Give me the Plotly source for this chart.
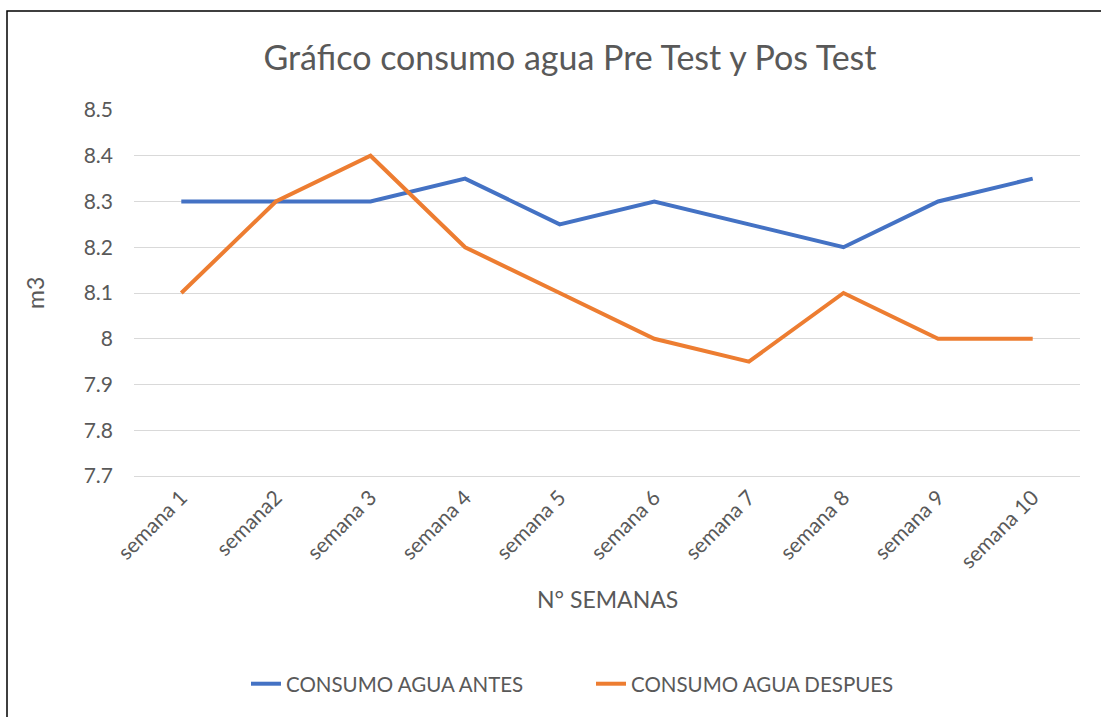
import plotly.graph_objects as go

semanas = ["semana 1", "semana2", "semana 3", "semana 4", "semana 5",
           "semana 6", "semana 7", "semana 8", "semana 9", "semana 10"]
consumo_antes = [8.3, 8.3, 8.3, 8.35, 8.25, 8.3, 8.25, 8.2, 8.3, 8.35]
consumo_despues = [8.1, 8.3, 8.4, 8.2, 8.1, 8.0, 7.95, 8.1, 8.0, 8.0]
y_ticks = [7.7, 7.8, 7.9, 8.0, 8.1, 8.2, 8.3, 8.4, 8.5]
y_labels = ["7.7", "7.8", "7.9", "8", "8.1", "8.2", "8.3", "8.4", "8.5"]

FONT = "Lato, 'Open Sans', sans-serif"
GREY = "#595959"

fig = go.Figure()
fig.add_trace(go.Scatter(x=semanas, y=consumo_antes, mode="lines",
                         name="CONSUMO AGUA ANTES",
                         line=dict(color="#4472C4", width=4)))
fig.add_trace(go.Scatter(x=semanas, y=consumo_despues, mode="lines",
                         name="CONSUMO AGUA DESPUES",
                         line=dict(color="#ED7D31", width=4)))

# plot area: x 134..1080, y 110..476 px
fig.update_layout(
    width=1101, height=717,
    margin=dict(l=134, r=21, t=110, b=241),
    paper_bgcolor="white", plot_bgcolor="white",
    font=dict(family=FONT, color=GREY, size=21),
    title=dict(text="Gráfico consumo agua Pre Test y Pos Test",
               x=570 / 1101, xanchor="center", y=1 - 58 / 717, yanchor="middle",
               font=dict(size=34, color=GREY)),
    showlegend=True,
    legend=dict(orientation="h", x=(246 - 134) / 946, xanchor="left",
                y=-0.568, yanchor="middle", entrywidth=300,
                font=dict(size=20.5, color=GREY)),
    xaxis=dict(showgrid=False, showline=True, linecolor="#D9D9D9", linewidth=1,
               tickangle=-45, tickfont=dict(size=21, color=GREY),
               range=[-0.5, 9.5], ticks=""),
    yaxis=dict(range=[7.7, 8.5], tickvals=y_ticks, ticktext=y_labels,
               showgrid=True, gridcolor="#D9D9D9", gridwidth=1, zeroline=False,
               tickfont=dict(size=21, color=GREY), ticklabelstandoff=20),
)

fig.add_annotation(text="N° SEMANAS", xref="paper", yref="paper",
                   x=0.5, y=(476 - 599) / 366, showarrow=False,
                   font=dict(size=23, color=GREY), yanchor="middle")
fig.add_annotation(text="m3", xref="paper", yref="paper",
                   x=(35 - 134) / 946, y=(476 - 293) / 366, showarrow=False,
                   textangle=-90, font=dict(size=23, color=GREY),
                   xanchor="center", yanchor="middle")

# chart border
fig.add_shape(type="rect", xref="paper", yref="paper",
              x0=(7 - 134) / 946, x1=(1110 - 134) / 946,
              y0=(476 - 730) / 366, y1=(476 - 11) / 366,
              line=dict(color="black", width=1.5))

fig.write_html("out.html", config={"displayModeBar": False},
               post_script="document.body.style.margin='0';")
